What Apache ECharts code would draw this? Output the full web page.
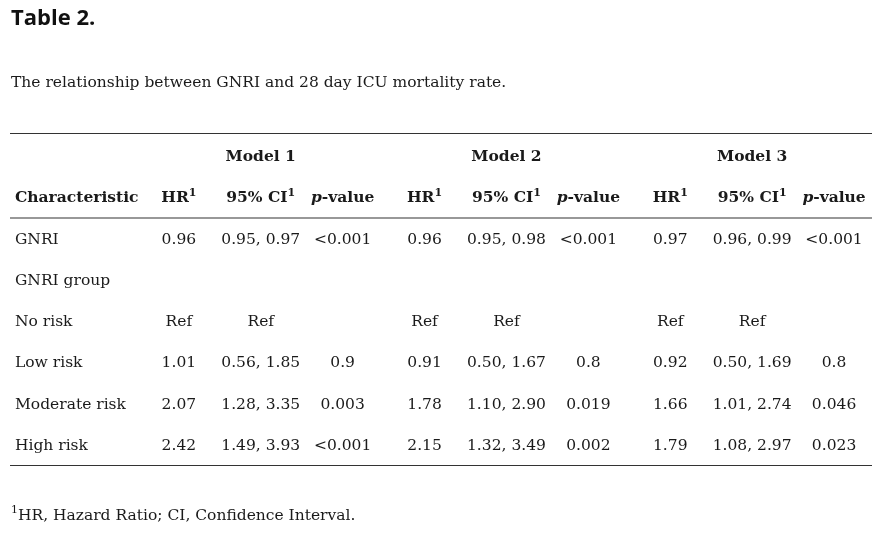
<!DOCTYPE html>
<html><head><meta charset="utf-8">
<script src="https://cdn.jsdelivr.net/npm/echarts@6/dist/echarts.min.js"></script>
<style>html,body{margin:0;padding:0;background:#fff}#c{width:888px;height:535px}</style>
</head><body><div id="c"></div>
<script>
const tableTitle = "Table 2.";
const caption = "The relationship between GNRI and 28 day ICU mortality rate.";
const footnote = "HR, Hazard Ratio; CI, Confidence Interval.";
const firstHeader = "Characteristic";
const models = ["Model 1", "Model 2", "Model 3"];
const statHeaders = ["HR", "95% CI", "p-value"];
const rowLabels = ["GNRI", "GNRI group", "No risk", "Low risk", "Moderate risk", "High risk"];
const model1HR = ["0.96", "", "Ref", "1.01", "2.07", "2.42"];
const model1CI = ["0.95, 0.97", "", "Ref", "0.56, 1.85", "1.28, 3.35", "1.49, 3.93"];
const model1P  = ["<0.001", "", "", "0.9", "0.003", "<0.001"];
const model2HR = ["0.96", "", "Ref", "0.91", "1.78", "2.15"];
const model2CI = ["0.95, 0.98", "", "Ref", "0.50, 1.67", "1.10, 2.90", "1.32, 3.49"];
const model2P  = ["<0.001", "", "", "0.8", "0.019", "0.002"];
const model3HR = ["0.97", "", "Ref", "0.92", "1.66", "1.79"];
const model3CI = ["0.96, 0.99", "", "Ref", "0.50, 1.69", "1.01, 2.74", "1.08, 2.97"];
const model3P  = ["<0.001", "", "", "0.8", "0.046", "0.023"];

const modelCols = [[model1HR, model1CI, model1P], [model2HR, model2CI, model2P], [model3HR, model3CI, model3P]];
const xCats = ["char"];
models.forEach((m, i) => statHeaders.forEach((s, j) => xCats.push(m + "|" + s)));
const yCats = ["models", "header"].concat(rowLabels);

const SERIF = "'DejaVu Serif', serif";
const FS = 15.5;
const TXT = "#1a1a1a";
const richStyles = {
  b: { fontFamily: SERIF, fontSize: FS, fontWeight: "bold", color: TXT, lineHeight: 22 },
  bi: { fontFamily: SERIF, fontSize: FS, fontWeight: "bold", fontStyle: "italic", color: TXT, lineHeight: 22 },
  sup: { fontFamily: SERIF, fontSize: 11, fontWeight: "bold", color: TXT, verticalAlign: "top", lineHeight: 22 }
};
function headerText(s) {
  if (s === "p-value") return "{bi|p}{b|-value}";
  return "{b|" + s + "}{sup|1}";
}

const cells = [];
models.forEach((m, i) => {
  cells.push({ value: [1 + i * 3 + 1, 0], label: { formatter: "{b|" + m + "}" } });
});
cells.push({ value: [0, 1], label: { formatter: "{b|" + firstHeader + "}", align: "left", offset: [-82, 0] } });
models.forEach((m, i) => statHeaders.forEach((s, j) => {
  cells.push({ value: [1 + i * 3 + j, 1], label: { formatter: headerText(s) } });
}));
rowLabels.forEach((r, ri) => {
  cells.push({ value: [0, 2 + ri], label: { formatter: r, align: "left", offset: [-82, 0] } });
  modelCols.forEach((cols, i) => cols.forEach((arr, j) => {
    if (arr[ri] !== "") cells.push({ value: [1 + i * 3 + j, 2 + ri], label: { formatter: arr[ri] } });
  }));
});

const chart = echarts.init(document.getElementById("c"), null, { renderer: "canvas" });
const lineStyle = { stroke: "#333", lineWidth: 1.2 };
chart.setOption({
  animation: false,
  backgroundColor: "#fff",
  grid: { left: 56, right: 13, top: 136.4, bottom: 68.4 },
  xAxis: { type: "category", data: xCats, boundaryGap: true, show: false },
  yAxis: { type: "category", data: yCats, inverse: true, boundaryGap: true, show: false },
  series: [{
    type: "scatter",
    symbolSize: 0,
    itemStyle: { opacity: 1, color: "transparent" },
    data: cells,
    label: {
      show: true, position: "inside", fontFamily: SERIF, fontSize: FS, color: TXT,
      textBorderWidth: 0, opacity: 1,
      rich: richStyles
    }
  }],
  graphic: [
    { type: "text", left: 11, top: 8, style: { text: tableTitle, font: "bold 22px 'Open Sans'", fill: "#111" } },
    { type: "text", left: 11, top: 75, style: { text: caption, font: FS + "px " + SERIF, fill: TXT } },
    { type: "line", shape: { x1: 10, y1: 133.5, x2: 872, y2: 133.5 }, style: lineStyle },
    { type: "line", shape: { x1: 10, y1: 218, x2: 872, y2: 218 }, style: lineStyle },
    { type: "line", shape: { x1: 10, y1: 465.5, x2: 872, y2: 465.5 }, style: lineStyle },
    { type: "text", left: 11, top: 505, style: {
        text: "{s|1}{t|" + footnote + "}",
        rich: {
          s: { fontFamily: SERIF, fontSize: 11, fill: TXT, verticalAlign: "top", lineHeight: 22 },
          t: { fontFamily: SERIF, fontSize: FS, fill: TXT, lineHeight: 22 }
        } } }
  ]
});
</script></body></html>
